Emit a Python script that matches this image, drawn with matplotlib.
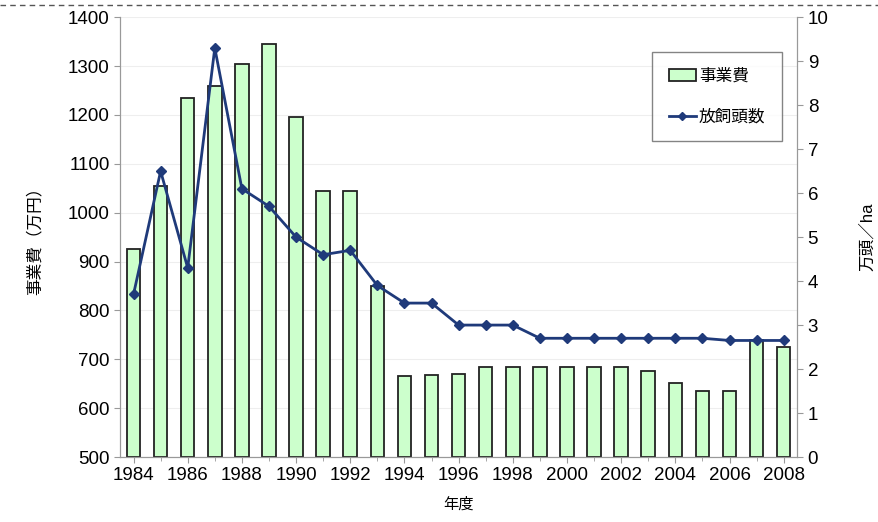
import numpy as np
import matplotlib.pyplot as plt
from matplotlib.lines import Line2D

plt.rcParams['font.family'] = ['Liberation Sans', 'Noto Sans CJK JP']

years = list(range(1984, 2009))
cost = [925, 1055, 1235, 1260, 1305, 1345, 1195, 1045, 1045, 850,
        665, 668, 670, 685, 685, 685, 685, 685, 685, 675,
        652, 635, 635, 740, 725]
heads = [3.7, 6.5, 4.3, 9.3, 6.1, 5.7, 5.0, 4.6, 4.7, 3.9,
         3.5, 3.5, 3.0, 3.0, 3.0, 2.7, 2.7, 2.7, 2.7, 2.7,
         2.7, 2.7, 2.65, 2.65, 2.65]
tick_years = years[::2]

fig = plt.figure(figsize=(8.79, 5.22), dpi=100)
ax = fig.add_axes([0.1365, 0.1245, 0.7705, 0.8425])

ax.bar(years, [c - 500 for c in cost], bottom=500, width=0.5,
       color='#ccffcc', edgecolor='#222222', linewidth=1.3, zorder=2)
ax.set_ylim(500, 1400)
ax.set_xlim(1983.5, 2008.5)
ax.set_yticks(range(500, 1401, 100))
ax.set_xticks(tick_years)
ax.set_xticks(years, minor=True)
ax.grid(axis='y', color='#eeeeee', linewidth=0.8, zorder=0)
ax.tick_params(labelsize=13.5, color='#999999', length=4)
ax.tick_params(which='minor', color='#999999', length=3)
ax.set_ylabel('事業費（万円）', fontsize=12, labelpad=18)
ax.set_xlabel('年度', fontsize=11, labelpad=9)
for s in ax.spines.values():
    s.set_color('#999999')
ax.spines['top'].set_visible(False)

ax2 = ax.twinx()
ax2.plot(years, heads, color='#1f3a7a', linewidth=2, marker='D', markersize=5, zorder=3)
ax2.set_ylim(0, 10)
ax2.set_yticks(range(0, 11))
ax2.tick_params(labelsize=13.5, color='#999999', length=4)
ax2.set_ylabel('万頭／ha', fontsize=12, labelpad=22)
for s in ax2.spines.values():
    s.set_color('#999999')
ax2.spines['top'].set_visible(False)

handles = [plt.Rectangle((0, 0), 1, 1, facecolor='#ccffcc', edgecolor='#222222', linewidth=1.3),
           Line2D([], [], color='#1f3a7a', linewidth=2, marker='D', markersize=4)]
leg = ax2.legend(handles, ['事業費', '放飼頭数'], loc='upper right',
                 bbox_to_anchor=(0.99, 0.94), fontsize=12, fancybox=False,
                 edgecolor='#666666', labelspacing=1.5, borderpad=1.0,
                 handlelength=1.6, handletextpad=0.2)
leg.get_frame().set_linewidth(1)

fig.add_artist(Line2D([0, 1], [0.99, 0.99], transform=fig.transFigure,
                      color='#555555', linestyle=(0, (4, 3)), linewidth=1))

fig.savefig('out.png', dpi=100)
